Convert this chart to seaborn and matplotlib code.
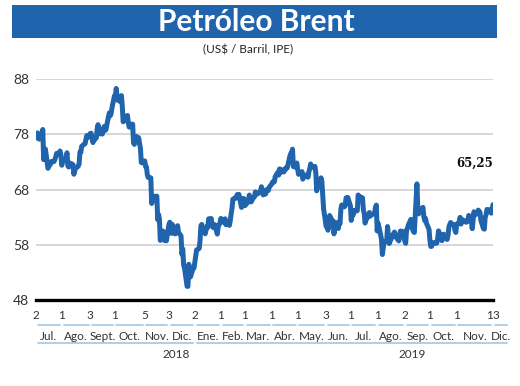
import numpy as np
import pandas as pd
import matplotlib
matplotlib.use("Agg")
import matplotlib.pyplot as plt
import seaborn as sns
from matplotlib.patches import Rectangle

# Brent (IPE) daily close, US$/barrel, one list per month (business days)
jul18 = [77.30, 77.76, 78.24, 77.39, 77.11, 78.07, 78.86, 73.40, 74.45, 75.33, 71.84,
         72.16, 72.90, 72.58, 73.07, 73.06, 73.44, 73.93, 74.54, 74.29, 74.97, 74.25]
aug18 = [72.39, 73.45, 73.21, 73.75, 74.65, 72.28, 72.07, 72.81, 72.61, 72.46, 70.76, 71.43,
         71.83, 72.21, 72.63, 74.78, 74.73, 75.82, 76.21, 76.31, 77.14, 77.77, 77.42]
sep18 = [78.15, 78.17, 77.27, 76.50, 76.83, 77.37, 79.06, 79.74, 78.18, 78.09, 78.05, 79.03,
         79.40, 78.70, 78.80, 81.20, 81.87, 81.34, 81.72, 82.72]
oct18 = [84.98, 84.80, 86.29, 84.58, 84.16, 83.91, 85.00, 83.09, 80.26, 80.43, 80.78, 81.41,
         80.05, 79.29, 79.78, 79.83, 76.44, 76.17, 76.89, 77.62, 77.34, 76.31, 75.47]
nov18 = [72.89, 72.83, 73.17, 72.13, 72.07, 70.65, 70.18, 70.12, 65.47, 66.12, 66.62, 66.76,
         66.79, 62.53, 63.48, 62.60, 58.80, 60.48, 60.21, 58.76, 59.51, 58.71]
dec18 = [61.69, 62.08, 61.56, 60.06, 61.67, 59.97, 60.20, 60.15, 61.45, 60.28, 59.61, 56.26,
         57.24, 54.35, 53.82, 50.47, 50.47, 54.47, 52.16, 52.20, 53.80]
jan19 = [53.80, 54.91, 55.95, 57.06, 57.33, 58.72, 61.44, 61.68, 60.48, 59.99, 60.64, 61.32,
         61.18, 62.70, 62.74, 61.50, 61.14, 61.09, 61.64, 59.93, 61.32, 61.65, 61.89]
feb19 = [62.75, 62.51, 61.98, 62.69, 61.63, 62.10, 61.51, 62.42, 63.61, 64.57, 66.25, 66.50,
         66.45, 67.08, 67.07, 67.12, 64.76, 65.21, 66.39, 66.31]
mar19 = [65.07, 65.67, 65.86, 66.99, 66.30, 65.74, 66.58, 66.67, 67.55, 67.23, 67.16, 67.54,
         67.61, 68.50, 67.86, 67.03, 67.21, 67.97, 67.83, 67.82, 68.39]
apr19 = [69.01, 69.37, 69.31, 69.40, 70.34, 71.10, 70.61, 71.73, 71.02, 71.55, 71.18, 71.72,
         71.62, 71.97, 71.97, 74.04, 74.51, 74.57, 75.30, 72.15, 72.04, 72.80]
may19 = [71.62, 70.75, 70.85, 71.24, 69.88, 70.37, 70.39, 70.62, 70.23, 71.24, 71.77, 72.62,
         72.21, 71.97, 72.18, 70.99, 67.76, 68.69, 68.69, 70.11, 69.45, 66.87, 64.49]
jun19 = [61.28, 61.97, 60.63, 61.67, 63.29, 62.29, 62.29, 59.97, 61.31, 62.01, 60.94, 62.14,
         61.82, 64.45, 65.20, 64.86, 65.05, 66.49, 66.55, 66.55]
jul19 = [65.06, 62.40, 63.82, 63.30, 64.23, 64.11, 64.16, 67.01, 66.52, 66.72, 66.48, 64.35,
         63.66, 61.93, 62.47, 63.26, 63.83, 63.18, 63.39, 63.46, 63.71, 64.72, 65.17]
aug19 = [60.50, 61.89, 59.81, 58.94, 56.23, 57.38, 58.53, 58.57, 61.30, 59.48, 58.23, 58.64,
         59.74, 60.03, 60.30, 59.92, 59.34, 58.70, 59.51, 60.49, 60.08, 60.43]
sep19 = [58.66, 58.26, 60.70, 60.95, 61.54, 62.59, 62.38, 60.81, 60.38, 60.22, 69.02, 64.55,
         63.60, 64.40, 64.28, 64.77, 63.10, 62.39, 62.74, 61.91, 60.78]
oct19 = [58.89, 57.69, 57.71, 58.37, 58.35, 58.24, 58.32, 59.10, 60.51, 59.35, 58.74, 59.42,
         59.91, 59.42, 58.96, 59.70, 61.17, 61.67, 62.02, 61.57, 61.59, 60.61, 60.23]
nov19 = [61.69, 62.13, 62.96, 61.74, 62.29, 62.51, 62.18, 62.06, 62.37, 62.28, 63.30, 62.44,
         60.91, 62.40, 63.97, 63.39, 63.65, 64.27, 64.06, 63.87, 62.43]
dec19 = [60.92, 60.82, 62.99, 63.39, 64.39, 64.25, 64.34, 63.72, 64.20, 65.25]

month_starts = ["2018-07-02", "2018-08-01", "2018-09-03", "2018-10-01", "2018-11-01",
                "2018-12-03", "2019-01-01", "2019-02-01", "2019-03-01", "2019-04-01",
                "2019-05-01", "2019-06-03", "2019-07-01", "2019-08-01", "2019-09-02",
                "2019-10-01", "2019-11-01", "2019-12-02"]
month_values = [jul18, aug18, sep18, oct18, nov18, dec18, jan19, feb19, mar19,
                apr19, may19, jun19, jul19, aug19, sep19, oct19, nov19, dec19]

# labelled dates on the axis (day of month shown) and the month names
tick_dates = ["2018-07-02", "2018-08-01", "2018-09-03", "2018-10-01", "2018-11-05",
              "2018-12-03", "2019-01-02", "2019-02-01", "2019-03-01", "2019-04-01",
              "2019-05-01", "2019-06-03", "2019-07-01", "2019-08-01", "2019-09-02",
              "2019-10-01", "2019-11-01", "2019-12-13"]
tick_labels = ["2", "1", "3", "1", "5", "3", "2", "1", "1", "1", "1", "3", "1", "1", "2", "1", "1", "13"]
month_names = ["Jul.", "Ago.", "Sept.", "Oct.", "Nov.", "Dic.", "Ene.", "Feb.", "Mar.",
               "Abr.", "May.", "Jun.", "Jul.", "Ago.", "Sep.", "Oct.", "Nov.", "Dic."]
segment_end = "2019-12-31"
years = ["2018", "2019"]
year_spans = [("2018-07-02", "2019-01-02"), ("2019-01-02", "2019-12-31")]
year_label_dates = ["2018-12-11", "2019-09-11"]
last_label = "65,25"

frames = []
for start, vals in zip(month_starts, month_values):
    frames.append(pd.DataFrame({"fecha": pd.bdate_range(start, periods=len(vals)), "precio": vals}))
df = pd.concat(frames, ignore_index=True)

BLUE = "#1f64ad"
SEG = "#a9cbe6"

sns.set_style("white")
plt.rcParams["font.family"] = ["Lato", "DejaVu Sans"]

fig = plt.figure(figsize=(5.2, 3.86), dpi=100)
ax = fig.add_axes([0.069, 0.2228, 0.879, 0.5725])

sns.lineplot(data=df, x="fecha", y="precio", color=BLUE, lw=3.6, ax=ax)

ax.set_ylim(48, 88)
ax.set_yticks([48, 58, 68, 78, 88])
ax.set_xlim(df["fecha"].iloc[0], df["fecha"].iloc[-1])
ax.grid(axis="y", color="#d4d4d4", lw=1.3)
ax.set_axisbelow(True)
for s in ["top", "right", "left"]:
    ax.spines[s].set_visible(False)
ax.spines["bottom"].set_color("black")
ax.spines["bottom"].set_linewidth(2.4)
ax.set_xlabel("")
ax.set_ylabel("")
ax.tick_params(axis="y", length=0, pad=5, labelsize=10, labelcolor="#333333")

tdates = pd.to_datetime(tick_dates)
ax.set_xticks(tdates)
ax.set_xticklabels(tick_labels)
ax.tick_params(axis="x", length=0, pad=7, labelsize=8.5, labelcolor="#333333")

tr = ax.get_xaxis_transform()
gap = pd.Timedelta(days=2)
edges = list(tdates) + [pd.Timestamp(segment_end)]
for i, name in enumerate(month_names):
    a, b = edges[i], edges[i + 1]
    ax.plot([a + gap, b - gap], [-0.113, -0.113], color=SEG, lw=1.3, transform=tr, clip_on=False)
    ax.text(a + (b - a) / 2, -0.165, name, transform=tr, ha="center", va="center",
            fontsize=8.5, color="#333333")
for (a, b), yr, xd in zip(year_spans, years, year_label_dates):
    a, b = pd.Timestamp(a), pd.Timestamp(b)
    ax.plot([a + gap, b - gap], [-0.195, -0.195], color=SEG, lw=1.3, transform=tr, clip_on=False)
    ax.text(pd.Timestamp(xd), -0.245, yr, transform=tr, ha="center", va="center",
            fontsize=8.5, color="#333333")

ax.text(df["fecha"].iloc[-1], 72.7, last_label, ha="right", va="center",
        fontsize=8.5, fontweight="bold", family=["DejaVu Serif"], color="#111111")

# title banner
fig.patches.append(Rectangle((0.023, 0.9016), 0.933, 0.0855, transform=fig.transFigure,
                             facecolor=BLUE, edgecolor="none"))
fig.text(0.492, 0.943, "Petróleo Brent", ha="center", va="center", color="white",
         fontsize=21.5, fontweight="bold")
fig.text(0.477, 0.870, "(US$ / Barril, IPE)", ha="center", va="center", fontsize=8.5,
         color="#222222")

fig.savefig("out.png", dpi=100)
